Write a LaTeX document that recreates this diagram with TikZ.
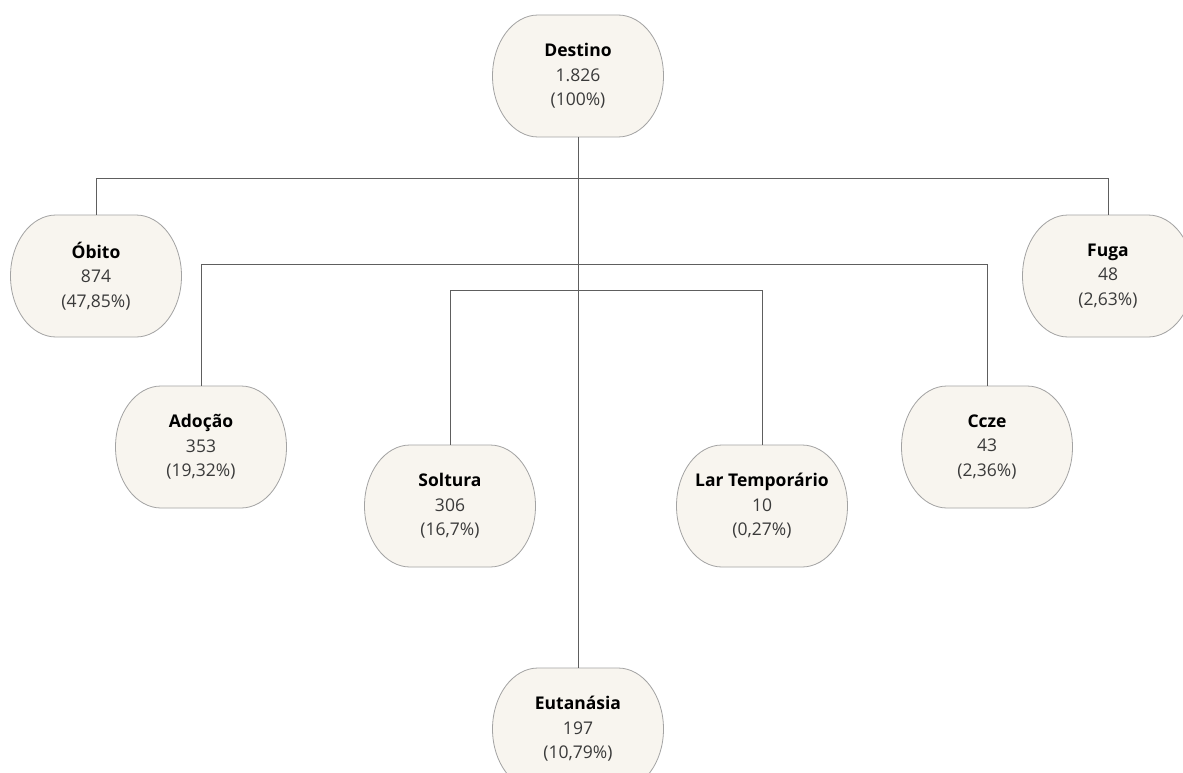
\documentclass[tikz,border=0pt]{standalone}
\usepackage{fontspec}
\setmainfont{Open Sans}
\usetikzlibrary{calc}

\definecolor{boxfill}{HTML}{F8F5EF}
\definecolor{boxedge}{HTML}{A3A3A3}
\definecolor{wire}{HTML}{5E5E5E}
\definecolor{numtext}{HTML}{3A3A3A}

\tikzset{
  lbl/.style={draw=none, minimum width=171pt, minimum height=122pt, align=center,
    inner sep=0pt, font=\fontsize{17.5}{24.5}\selectfont},
  box/.style={draw=boxedge, fill=boxfill, line width=0.8pt},
  wireline/.style={draw=wire, line width=0.9pt},
}

% stadium-shaped card: name, x, y, title, count, share
\newcommand\card[6]{%
  \path[box] (#2-40,#3+61) -- (#2+40,#3+61)
    arc[start angle=90, end angle=-90, x radius=45.5, y radius=61]
    -- (#2-40,#3-61)
    arc[start angle=270, end angle=90, x radius=45.5, y radius=61] -- cycle;
  \node[lbl] (#1) at (#2,#3) {\textbf{#4}\\\textcolor{numtext}{#5}\\\textcolor{numtext}{#6}};
}

\begin{document}
\begin{tikzpicture}[x=1pt, y=1pt]
  \useasboundingbox (0,0) rectangle (1183,-773);
  \clip (0,0) rectangle (1183,-773);
  \fill[white] (0,0) rectangle (1183,-773);

  % bus rows
  \coordinate (busA) at (0,-178);
  \coordinate (busB) at (0,-264);
  \coordinate (busC) at (0,-290);

  \card{dest}{578}{-76}{Destino}{1.826}{(100\%)}
  \card{obito}{96}{-276}{Óbito}{874}{(47,85\%)}
  \card{fuga}{1108}{-276}{Fuga}{48}{(2,63\%)}
  \card{adocao}{201}{-447}{Adoção}{353}{(19,32\%)}
  \card{ccze}{987}{-447}{Ccze}{43}{(2,36\%)}
  \card{soltura}{450}{-506}{Soltura}{306}{(16,7\%)}
  \card{lar}{762}{-506}{Lar Temporário}{10}{(0,27\%)}
  \card{eut}{578}{-729}{Eutanásia}{197}{(10,79\%)}

  % connectors
  \draw[wireline] (dest.south) -- (eut.north);
  \draw[wireline] (obito.north) -- (obito.north |- busA) -- (fuga.north |- busA) -- (fuga.north);
  \draw[wireline] (adocao.north) -- (adocao.north |- busB) -- (ccze.north |- busB) -- (ccze.north);
  \draw[wireline] (soltura.north) -- (soltura.north |- busC) -- (lar.north |- busC) -- (lar.north);
\end{tikzpicture}
\end{document}
